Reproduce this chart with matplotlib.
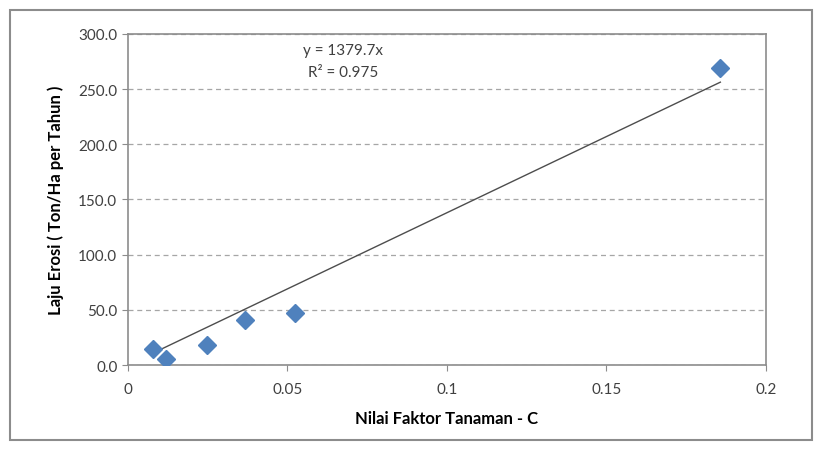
import numpy as np
import matplotlib.pyplot as plt
from matplotlib.patches import Rectangle

# data
c_factor = [0.0080, 0.0121, 0.0248, 0.0367, 0.0524, 0.1857]
erosion = [14.8, 5.3, 18.5, 40.8, 47.0, 268.9]
slope = 1379.7
r2 = 0.975
x_ticks = [0, 0.05, 0.1, 0.15, 0.2]
x_tick_labels = ["0", "0.05", "0.1", "0.15", "0.2"]
y_ticks = [0, 50, 100, 150, 200, 250, 300]

plt.rcParams['font.family'] = ['Lato', 'DejaVu Sans']

fig = plt.figure(figsize=(8.14, 4.52), dpi=100)
ax = fig.add_axes([0.157, 0.190, 0.784, 0.733])

# outer chart border
fig.patches.append(Rectangle((10 / 814, 11 / 452), 802 / 814, 430 / 452,
                             transform=fig.transFigure, fill=False,
                             edgecolor="#8c8c8c", linewidth=1.5))

ax.set_axisbelow(True)
ax.grid(axis="y", linestyle=(0, (4, 3)), color="#a6a6a6", linewidth=0.9)

xs = np.array([min(c_factor), max(c_factor)])
ax.plot(xs, slope * xs, color="#4d4d4d", linewidth=1.0, zorder=2)
ax.plot(c_factor, erosion, linestyle="none", marker="D", markersize=9,
        color="#4f81bd", markeredgecolor="#4f81bd", zorder=3)

ax.text(0.0674, 285, f"y = {slope}x", ha="center", va="center",
        fontsize=11, color="#404040")
ax.text(0.0674, 265, f"R² = {r2}", ha="center", va="center",
        fontsize=11, color="#404040")

ax.set_xlim(0, 0.2)
ax.set_ylim(0, 300)
ax.set_xticks(x_ticks)
ax.set_xticklabels(x_tick_labels)
ax.set_yticks(y_ticks)
ax.set_yticklabels([f"{v:.1f}" for v in y_ticks])
ax.tick_params(labelsize=11, colors="#404040", length=4, color="#8c8c8c")
ax.tick_params(axis="x", pad=8)

for side in ["left", "bottom", "top", "right"]:
    ax.spines[side].set_color("#8c8c8c")
    ax.spines[side].set_linewidth(1.2)

ax.set_xlabel("Nilai Faktor Tanaman - C", fontsize=12, fontweight="bold",
              labelpad=10)
ax.set_ylabel("Laju Erosi ( Ton/Ha per Tahun )", fontsize=12,
              fontweight="bold", labelpad=10)

fig.savefig("out.png", dpi=100)
